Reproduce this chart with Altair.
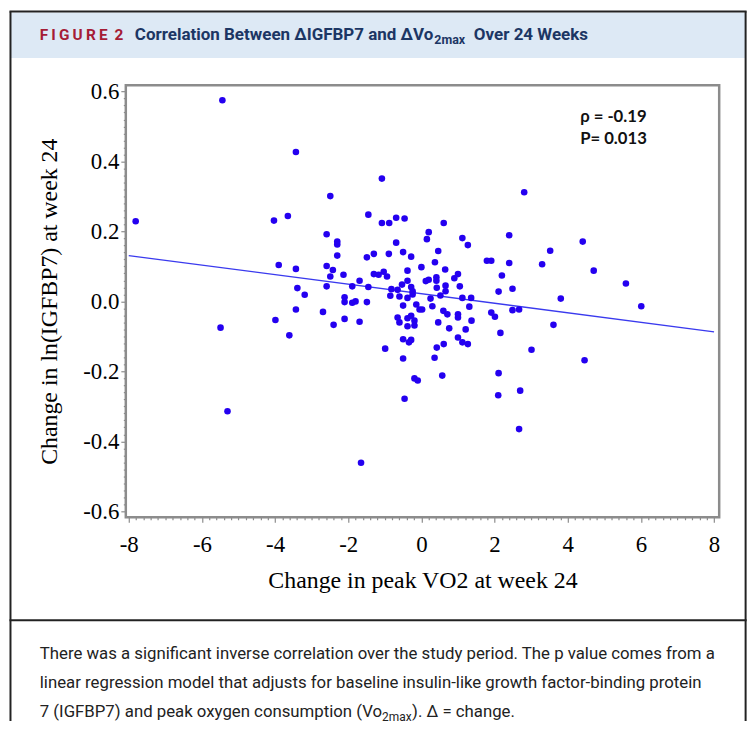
import altair as alt
import pandas as pd

# ---- data ----
vo2_change = [
    -7.81, -5.44, -3.43, -2.49, -4.03, -3.65, -2.59, -3.90, -3.43, -2.59,
    -2.42, -2.49, -3.39, -3.19, -2.59, -1.08, 2.81, -1.45, -1.08, -0.88,
    -0.69, -0.46, 0.61, 0.20, 0.15, 1.12, 1.27, 2.40, -2.30, -2.30,
    -0.69, -2.30, -1.49, -1.30, -0.89, -0.50, -0.28, 0.46, 0.37, 0.00,
    -0.38, 0.65, 1.79, 1.91, 2.40, 2.20, -2.13, -1.30, -1.17, -1.03,
    -0.94, -1.69, -1.89, -1.45, -0.53, -0.38, -0.28, -0.24, -0.24, -0.82,
    -0.65, -0.85, -0.60, -0.38, 0.12, 0.20, 0.41, 0.41, 0.42, 0.66,
    0.66, 0.52, 0.90, 1.00, 1.05, 1.12, 1.36, 2.11, 2.49, -2.10,
    0.25, -2.10, -1.89, -1.80, -1.49, -0.50, -0.14, -0.05, 0.02, 0.30,
    1.31, 0.60, 0.71, 1.00, 1.00, 1.37, 0.46, 0.76, 1.21, 1.00,
    1.12, 1.27, 0.61, 0.42, 0.36, 0.57, -2.40, -2.10, -1.69, -0.65,
    -0.60, -0.38, -0.28, -0.19, -0.38, -0.19, -0.50, -0.28, -0.34, -0.99,
    -0.50, -0.19, -0.10, -0.46, -1.65, 1.91, 2.01, 2.16, 2.49, 2.67,
    3.01, 2.11, 2.70, 2.10, 2.67, -5.49, -5.30, -3.99, -3.43, -2.69,
    -3.61, 4.41, 3.52, 3.30, 4.71, 5.59, 3.81, 6.01, 3.61, 4.46,
]
igfbp7_change = [
    0.229, 0.575, 0.427, 0.301, 0.231, 0.244, 0.192, 0.104, 0.093, 0.101,
    0.090, 0.071, 0.038, 0.019, 0.043, 0.351, 0.312, 0.248, 0.224, 0.224,
    0.239, 0.237, 0.224, 0.198, 0.178, 0.181, 0.161, 0.189, 0.171, 0.163,
    0.168, 0.131, 0.126, 0.136, 0.136, 0.141, 0.128, 0.144, 0.112, 0.098,
    0.088, 0.091, 0.116, 0.116, 0.110, 0.074, 0.076, 0.078, 0.076, 0.085,
    0.071, 0.059, 0.043, 0.041, 0.048, 0.059, 0.041, 0.029, 0.020, 0.035,
    0.033, 0.016, 0.014, 0.010, 0.058, 0.062, 0.069, 0.059, 0.039, 0.045,
    0.029, 0.017, 0.066, 0.078, 0.043, 0.010, 0.010, 0.028, 0.036, 0.012,
    0.008, -0.002, -0.004, 0.000, -0.002, -0.012, -0.009, -0.023, -0.023, -0.014,
    -0.015, -0.027, -0.037, -0.037, -0.046, -0.055, -0.060, -0.077, -0.080, -0.103,
    -0.117, -0.122, -0.122, -0.132, -0.161, -0.212, -0.067, -0.050, -0.058, -0.046,
    -0.060, -0.048, -0.041, -0.055, -0.071, -0.069, -0.108, -0.110, -0.117, -0.135,
    -0.163, -0.220, -0.226, -0.278, -0.461, -0.032, -0.044, -0.090, -0.025, -0.023,
    -0.138, -0.205, -0.255, -0.268, -0.365, -0.075, -0.314, -0.053, -0.023, -0.030,
    -0.097, 0.171, 0.145, 0.106, 0.088, 0.051, 0.008, -0.014, -0.067, -0.168,
]
fit_x = [-8.0, 8.0]
fit_y = [0.131, -0.087]

x_domain = [-8.08, 8.14]
y_domain = [-0.617, 0.618]
x_tick_values = [round(-8 + 0.2 * i, 1) for i in range(81)]
y_tick_values = [round(-0.6 + 0.02 * i, 2) for i in range(61)]

header_label = "F\u2009I\u2009G\u2009U\u2009R\u2009E\u2009 2"
title_main = "Correlation Between \u0394IGFBP7 and \u0394Vo"
title_sub = "2max"
title_end = "Over 24 Weeks"
stat_lines = ["\u03c1 = -0.19", "P= 0.013"]
caption_1 = "There was a significant inverse correlation over the study period. The p value comes from a"
caption_2 = "linear regression model that adjusts for baseline insulin-like growth factor-binding protein"
caption_3a = "7 (IGFBP7) and peak oxygen consumption (Vo"
caption_3b = "2max"
caption_3c = "). \u0394 = change."

# ---- layout (plot area; page offsets via padding) ----
W, H = 597.4, 435
PAD = {"left": 118.6, "top": 75.3, "right": 28, "bottom": 205.7}

pts = pd.DataFrame({"dvo2": vo2_change, "digf": igfbp7_change})
fit = pd.DataFrame({"dvo2": fit_x, "digf": fit_y})

xs = alt.Scale(domain=x_domain, nice=False, zero=False)
ys = alt.Scale(domain=y_domain, nice=False, zero=False)

AX_GRAY = "#8c8c8c"
SERIF = "Liberation Serif"

x_axis = alt.Axis(
    values=x_tick_values, tickCount=500,
    title="Change in peak VO2 at week 24",
    labelExpr="abs(round(datum.value*10)) % 20 == 0 ? (datum.value < 0 ? '-' : '') + format(abs(datum.value), 'd') : ''",
    domain=False, grid=False,
    tickColor=AX_GRAY, tickWidth=1.2,
    tickSize={"condition": {"test": "abs(round(datum.value*10)) % 20 == 0", "value": 5}, "value": 2.5},
    labelFont=SERIF, labelFontSize=23, labelColor="black", labelPadding=11,
    labelOverlap=False, labelFlush=False,
    titleFont=SERIF, titleFontSize=24, titleFontWeight="normal", titleColor="black",
    titlePadding=13,
)
y_axis = alt.Axis(
    values=y_tick_values, tickCount=500,
    title="Change in ln(IGFBP7) at week 24",
    labelExpr="abs(round(datum.value*100)) % 20 == 0 ? (datum.value < -0.001 ? '-' : '') + format(abs(datum.value), '.1f') : ''",
    domain=False, grid=False,
    tickColor=AX_GRAY, tickWidth=1.2,
    tickSize={"condition": {"test": "abs(round(datum.value*100)) % 20 == 0", "value": 5}, "value": 2.5},
    labelFont=SERIF, labelFontSize=23, labelColor="black", labelPadding=2,
    labelOverlap=False, labelFlush=False,
    titleFont=SERIF, titleFontSize=24, titleFontWeight="normal", titleColor="black",
    titlePadding=21,
)

points = alt.Chart(pts).mark_circle(size=44, color="#2400f0", opacity=1).encode(
    x=alt.X("dvo2:Q", scale=xs, axis=x_axis),
    y=alt.Y("digf:Q", scale=ys, axis=y_axis),
)
fit_line = alt.Chart(fit).mark_line(color="#3a3aee", strokeWidth=1.3).encode(
    x=alt.X("dvo2:Q", scale=xs),
    y=alt.Y("digf:Q", scale=ys),
)

one = alt.Data(values=[{}])


def deco_text(s, x, y, size, color, font, weight="normal", align="left"):
    return alt.Chart(one).mark_text(
        text=s, align=align, baseline="alphabetic", font=font,
        fontSize=size, fontWeight=weight, color=color,
    ).encode(x=alt.value(x), y=alt.value(y))


def vrule(x, y1, y2, color, w):
    return alt.Chart(one).mark_rule(color=color, strokeWidth=w).encode(
        x=alt.value(x), y=alt.value(y1), y2=alt.value(y2))


def hrule(y, x1, x2, color, w):
    return alt.Chart(one).mark_rule(color=color, strokeWidth=w).encode(
        y=alt.value(y), x=alt.value(x1), x2=alt.value(x2))


band = alt.Chart(one).mark_rect(color="#dde9f5").encode(
    x=alt.value(-115.6), x2=alt.value(623.4), y=alt.value(-73.3), y2=alt.value(-27.3))

FRAME = "#222222"
frame_layers = [
    band,
    vrule(-116.1, -74.3, 640, FRAME, 2),
    vrule(624.0, -74.3, 640, FRAME, 2),
    hrule(-74.3, -117.1, 625, FRAME, 2),
    hrule(538.7, -117.1, 625, FRAME, 2),
]

HFONT = "Roboto"
CAP = 16.9
TSZ = 17.1
text_layers = [
    deco_text(header_label, -86.6, -45.3, 15.5, "#a51c36", HFONT, "bold"),
    deco_text(title_main, 309.6, -45.3, TSZ, "#1c3664", HFONT, "bold", align="right"),
    deco_text(title_sub, 310.6, -41.0, 12.5, "#1c3664", HFONT, "bold"),
    deco_text(title_end, 350.4, -45.3, TSZ, "#1c3664", HFONT, "bold"),
    deco_text(stat_lines[0], 457.4, 36.7, 16.8, "#111111", "Lato", "bold"),
    deco_text(stat_lines[1], 457.4, 59.7, 16.8, "#111111", "Lato", "bold"),
    deco_text(caption_1, -86.6, 577.5, CAP, "#222222", HFONT),
    deco_text(caption_2, -86.6, 607.2, CAP, "#222222", HFONT),
    deco_text(caption_3a, -86.6, 636.2, CAP, "#222222", HFONT),
    deco_text(caption_3b, 258.0, 640.2, 12, "#222222", HFONT),
    deco_text(caption_3c, 288.2, 636.2, CAP, "#222222", HFONT),
]

chart = alt.layer(*frame_layers, fit_line, points, *text_layers).properties(
    width=W, height=H,
    autosize=alt.AutoSizeParams(type="none"),
    padding=PAD,
    background="white",
).configure_view(stroke=AX_GRAY, strokeWidth=2.5)

chart.save("out.html", embed_options={"renderer": "svg", "actions": False})
